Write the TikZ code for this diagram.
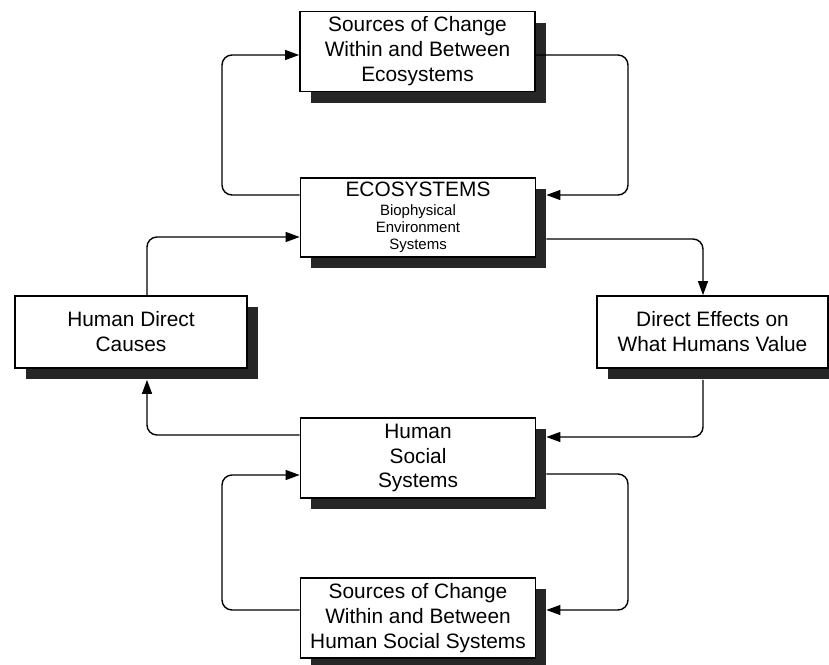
\documentclass[tikz,border=0pt]{standalone}
\usepackage{fontspec}
\setmainfont{Liberation Sans}
\usetikzlibrary{arrows.meta,shadows,calc}

\newcommand{\mainsize}{\fontsize{17.8}{21.3}\selectfont}
\newcommand{\subsize}{\fontsize{12.8}{14.8}\selectfont}

\begin{document}
\begin{tikzpicture}[x=0.03cm,y=-0.03cm,
  box/.style={draw, line width=1.4pt, fill=white, align=center, inner sep=2pt,
    minimum width=7.05cm, minimum height=2.4cm, font=\mainsize,
    drop shadow={shadow xshift=0.32cm, shadow yshift=-0.33cm, fill=black!85, opacity=1}},
  flow/.style={line width=1.2pt, rounded corners=0.3cm,
    -{Triangle[length=12pt,width=8.5pt]}}]
 \useasboundingbox (0,0) rectangle (829,665);
 \node[box] (src) at (417.5,51.5) {Sources of Change\\Within and Between\\Ecosystems};
 \node[box, font=\subsize, minimum height=2.37cm] (eco) at (418,217.5)
   {{\mainsize ECOSYSTEMS}\\[1pt]Biophysical\\Environment\\Systems};
 \node[box, minimum width=6.96cm, minimum height=2.16cm] (hdc) at (131,332) {Human Direct\\Causes};
 \node[box, minimum width=6.93cm, minimum height=2.16cm] (dev) at (712.5,332) {Direct Effects on\\What Humans Value};
 \node[box] (hss) at (418,458) {Human\\Social\\Systems};
 \node[box] (srcb) at (418,618) {Sources of Change\\Within and Between\\Human Social Systems};
 % upper loop
 \draw[flow] (eco.west |- 0,195) -- (222,195) -- (222,55) -- (src.west |- 0,55);
 \draw[flow] (src.east |- 0,55) -- (628,55) -- (628,195) -- ($(eco.east |- 0,195)+(10,0)$);
 % middle cycle
 \draw[flow] ($(eco.east |- 0,239)+(10,0)$) -- (703,239) -- (703,0 |- dev.north);
 \draw[flow] ($(703,0 |- dev.south)+(0,11)$) -- (703,437) -- ($(hss.east |- 0,437)+(10,0)$);
 \draw[flow] (hss.west |- 0,435) -- (147,435) -- ($(147,0 |- hdc.south)+(0,11)$);
 \draw[flow] (147,0 |- hdc.north) -- (147,237) -- (eco.west |- 0,237);
 % lower loop
 \draw[flow] (srcb.west |- 0,610) -- (222,610) -- (222,475) -- (hss.west |- 0,475);
 \draw[flow] ($(hss.east |- 0,474)+(10,0)$) -- (628,474) -- (628,610) -- ($(srcb.east |- 0,610)+(10,0)$);
\end{tikzpicture}
\end{document}
